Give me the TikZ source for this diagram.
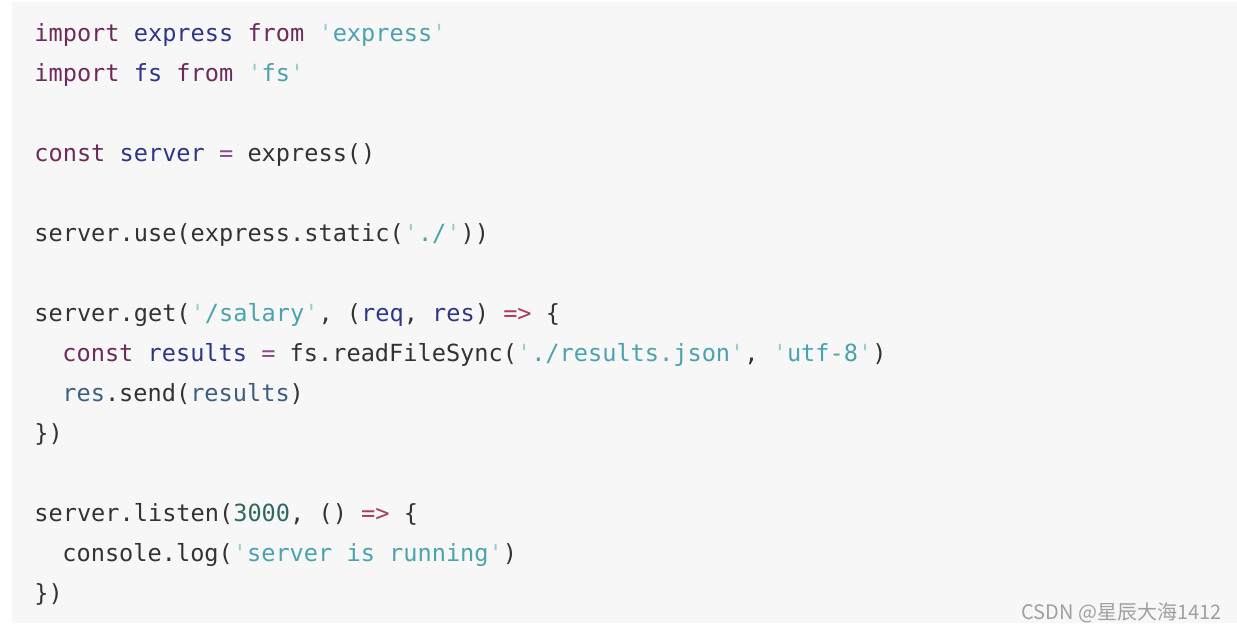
\documentclass[tikz,border=0pt]{standalone}
\usepackage{fontspec}
\setmonofont{DejaVu Sans Mono}
\newfontfamily\cjk{Noto Sans CJK SC}
\usetikzlibrary{positioning}
% code colours
\definecolor{panelbg}{HTML}{F7F7F7}
\definecolor{plainc}{HTML}{333333}
\definecolor{kwc}{HTML}{6D2A5A}
\definecolor{idc}{HTML}{2E368A}
\definecolor{refc}{HTML}{3F5F80}
\definecolor{strc}{HTML}{4AA3AD}
\definecolor{quotec}{HTML}{9ACDD2}
\definecolor{numc}{HTML}{2E6B5E}
\definecolor{arrowc}{HTML}{B03A5A}
\definecolor{eqc}{HTML}{8A4A8A}
\definecolor{markc}{HTML}{A0A0A0}
\newcommand{\kwd}[1]{\textcolor{kwc}{#1}}
\newcommand{\idt}[1]{\textcolor{idc}{#1}}
\newcommand{\rfn}[1]{\textcolor{refc}{#1}}
\newcommand{\strg}[1]{\textcolor{quotec}{'}\textcolor{strc}{#1}\textcolor{quotec}{'}}
\newcommand{\nmb}[1]{\textcolor{numc}{#1}}
\newcommand{\arw}{\textcolor{arrowc}{=>}}
\newcommand{\eqs}{\textcolor{eqc}{=}}
\tikzset{
	codeline/.style={
		anchor=base west, inner sep=0, text=plainc,
		font=\ttfamily\fontsize{11.8}{14}\selectfont,
	},
	watermark/.style={
		anchor=base east, inner sep=0, text=markc,
		font=\cjk\fontsize{10}{12}\selectfont,
	}
}

\begin{document}
\begin{tikzpicture}[x=0.5pt, y=-0.5pt]
	\useasboundingbox (0,0) rectangle (1237,633);
	% Panel
	\fill[white] (0,0) rectangle (1237,633);
	\fill[panelbg] (12,2) rectangle (1237,623);
	% Imports
	\node[codeline] (imp1) at (34,41) {\kwd{import} \idt{express} \kwd{from} \strg{express}};
	\node[codeline] (imp2) at (34,81) {\kwd{import} \idt{fs} \kwd{from} \strg{fs}};
	% Server
	\node[codeline] (srv) at (34,161) {\kwd{const} \idt{server} \eqs{} express()};
	\node[codeline] (use) at (34,241) {server.use(express.static(\strg{./}))};
	% Route
	\node[codeline] (get) at (34,321) {server.get(\strg{/salary}, (\idt{req}, \idt{res}) \arw{} \{};
	\node[codeline] (read) at (62,361) {\kwd{const} \idt{results} \eqs{} fs.readFileSync(\strg{./results.json}, \strg{utf-8})};
	\node[codeline] (send) at (62,401) {\rfn{res}.send(\rfn{results})};
	\node[codeline] (getend) at (34,441) {\})};
	% Listen
	\node[codeline] (lis) at (34,521) {server.listen(\nmb{3000}, () \arw{} \{};
	\node[codeline] (log) at (62,561) {console.log(\strg{server is running})};
	\node[codeline] (lisend) at (34,601) {\})};
	% Watermark
	\node[watermark] (wm) at (1222,619) {CSDN @星辰大海1412};
\end{tikzpicture}
\end{document}
